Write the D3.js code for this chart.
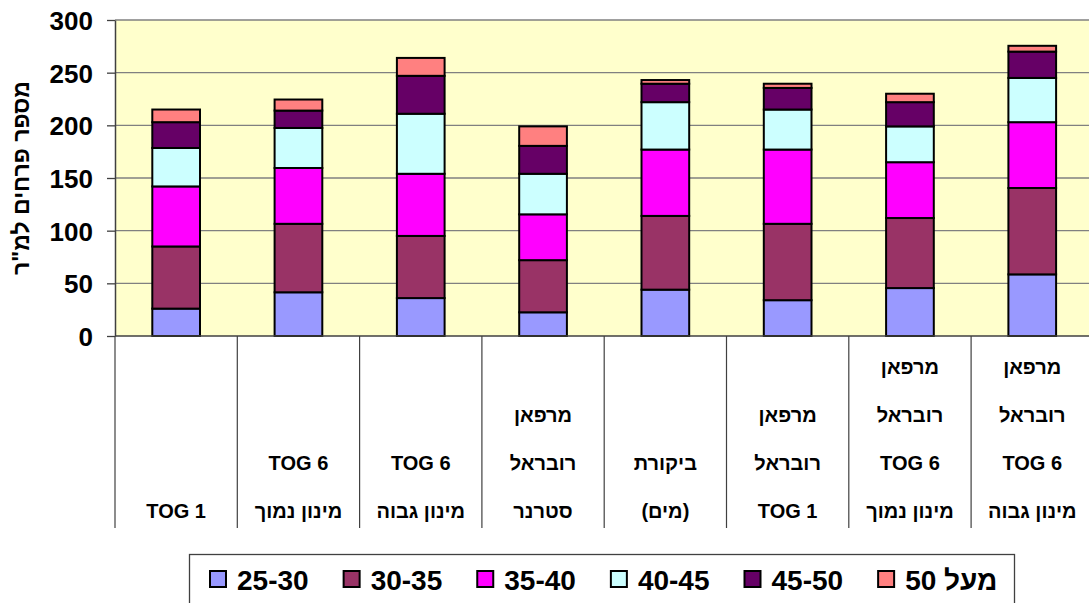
<!DOCTYPE html>
<html>
<head>
<meta charset="utf-8">
<script src="https://cdn.jsdelivr.net/npm/d3@7"></script>
<style>
  body { margin: 0; background: #fff; }
  svg text { font-family: Arial, "Liberation Sans", sans-serif; font-weight: bold; fill: #000; }
</style>
</head>
<body>
<svg id="chart" width="1089" height="603"></svg>
<script>
// Category labels (each one is a list of lines, top to bottom)
var categories = [
    ["TOG 1"],
    ["TOG 6", "מינון נמוך"],
    ["TOG 6", "מינון גבוה"],
    ["מרפאן", "רובראל", "סטרנר"],
    ["ביקורת", "(מים)"],
    ["מרפאן", "רובראל", "TOG 1"],
    ["מרפאן", "רובראל", "TOG 6", "מינון נמוך"],
    ["מרפאן", "רובראל", "TOG 6", "מינון גבוה"]
];

// Series names (legend) and their values per category
var seriesNames = ["25-30", "30-35", "35-40", "40-45", "45-50", "מעל 50"];
var s25to30 = [26, 41.5, 36, 22.5, 44, 34, 45.5, 58.5];
var s30to35 = [59, 65, 59, 49.5, 70, 72.5, 66.5, 82];
var s35to40 = [57, 53, 59, 43.5, 63, 70.5, 53, 62.5];
var s40to45 = [36.5, 38, 57, 38.5, 45, 38, 34, 42];
var s45to50 = [24.5, 16.5, 36, 26.5, 17.5, 20.5, 23, 25];
var sOver50 = [12, 10.5, 17, 18.5, 3.5, 4, 8, 5.5];

var yTicks = [0, 50, 100, 150, 200, 250, 300];
var yTitle = "מספר פרחים למ\"ר";

var colors = ["#9999ff", "#993366", "#ff00ff", "#ccffff", "#660066", "#ff8080"];

// Build a table for d3.stack
var seriesValues = [s25to30, s30to35, s35to40, s40to45, s45to50, sOver50];
var table = categories.map(function(c, i) {
    var row = { idx: i };
    seriesNames.forEach(function(s, j) { row[s] = seriesValues[j][i]; });
    return row;
});
var stacked = d3.stack().keys(seriesNames)(table);

// Plot area
var plot = { left: 115, top: 20, bottom: 336, step: 122.3 };
plot.right = plot.left + plot.step * categories.length;

var svg = d3.select("#chart");

var x = d3.scaleBand()
    .domain(d3.range(categories.length))
    .range([plot.left, plot.right])
    .paddingInner(0.61)
    .paddingOuter(0.305);

var y = d3.scaleLinear()
    .domain([0, 300])
    .range([plot.bottom, plot.top]);

// Background
svg.append("rect")
    .attr("x", plot.left).attr("y", plot.top)
    .attr("width", plot.right - plot.left)
    .attr("height", plot.bottom - plot.top)
    .attr("fill", "#ffffcc");

// Gridlines
svg.append("g")
    .selectAll("line")
    .data(yTicks.filter(function(d) { return d > 0; }))
    .enter().append("line")
    .attr("x1", plot.left).attr("x2", plot.right)
    .attr("y1", function(d) { return y(d); })
    .attr("y2", function(d) { return y(d); })
    .attr("stroke", "#808080")
    .attr("stroke-width", 1.3);

// Stacked bars
svg.append("g")
    .selectAll("g")
    .data(stacked)
    .enter().append("g")
    .attr("fill", function(d, i) { return colors[i]; })
    .selectAll("rect")
    .data(function(d) { return d; })
    .enter().append("rect")
    .attr("x", function(d) { return x(d.data.idx); })
    .attr("width", x.bandwidth())
    .attr("y", function(d) { return y(d[1]); })
    .attr("height", function(d) { return y(d[0]) - y(d[1]); })
    .attr("stroke", "#000")
    .attr("stroke-width", 2);

// Y axis
var yAxis = svg.append("g")
    .attr("transform", "translate(" + plot.left + ",0)")
    .call(d3.axisLeft(y).tickValues(yTicks).tickSize(8).tickSizeOuter(0).tickPadding(14));
yAxis.select(".domain").attr("stroke", "#404040").attr("stroke-width", 1.5);
yAxis.selectAll(".tick line").attr("stroke", "#404040").attr("stroke-width", 1.3);
yAxis.selectAll(".tick text")
    .style("font-size", "26px")
    .attr("dy", "0.36em");

// Y axis title
svg.append("text")
    .attr("transform", "translate(29," + ((plot.top + plot.bottom) / 2) + ") rotate(-90)")
    .attr("text-anchor", "middle")
    .style("font-size", "23px")
    .text(yTitle);

// Bottom axis line
svg.append("line")
    .attr("x1", plot.left).attr("x2", plot.right)
    .attr("y1", plot.bottom).attr("y2", plot.bottom)
    .attr("stroke", "#404040").attr("stroke-width", 1.5);

// Category separators (table below the plot)
svg.append("g")
    .selectAll("line")
    .data(d3.range(categories.length + 1))
    .enter().append("line")
    .attr("x1", function(i) { return plot.left + i * x.step(); })
    .attr("x2", function(i) { return plot.left + i * x.step(); })
    .attr("y1", plot.bottom)
    .attr("y2", 528)
    .attr("stroke", "#404040")
    .attr("stroke-width", 1.2);

// Category labels, bottom aligned
var lineGap = 48, lastBaseline = 518;
var catG = svg.append("g")
    .selectAll("g")
    .data(categories)
    .enter().append("g");
catG.selectAll("text")
    .data(function(d, i) { return d.map(function(t, k) { return { t: t, i: i, k: k, n: d.length }; }); })
    .enter().append("text")
    .attr("x", function(d) { return x(d.i) + x.bandwidth() / 2; })
    .attr("y", function(d) { return lastBaseline - (d.n - 1 - d.k) * lineGap; })
    .attr("text-anchor", "middle")
    .style("font-size", "20px")
    .text(function(d) { return d.t; });

// Legend
var legend = svg.append("g");
legend.append("rect")
    .attr("x", 189.5).attr("y", 554.5)
    .attr("width", 825).attr("height", 60)
    .attr("fill", "#fff")
    .attr("stroke", "#404040")
    .attr("stroke-width", 1.3);

var lx = 209;
seriesNames.forEach(function(name, i) {
    legend.append("rect")
        .attr("x", lx + 1).attr("y", 571)
        .attr("width", 16).attr("height", 16)
        .attr("fill", colors[i])
        .attr("stroke", "#000")
        .attr("stroke-width", 2);
    var t = legend.append("text")
        .attr("x", lx + 28)
        .attr("y", 590)
        .style("font-size", "28px")
        .text("\u2067" + name + "\u2069");
    lx += 28 + t.node().getComputedTextLength() + 34;
});
</script>
</body>
</html>
